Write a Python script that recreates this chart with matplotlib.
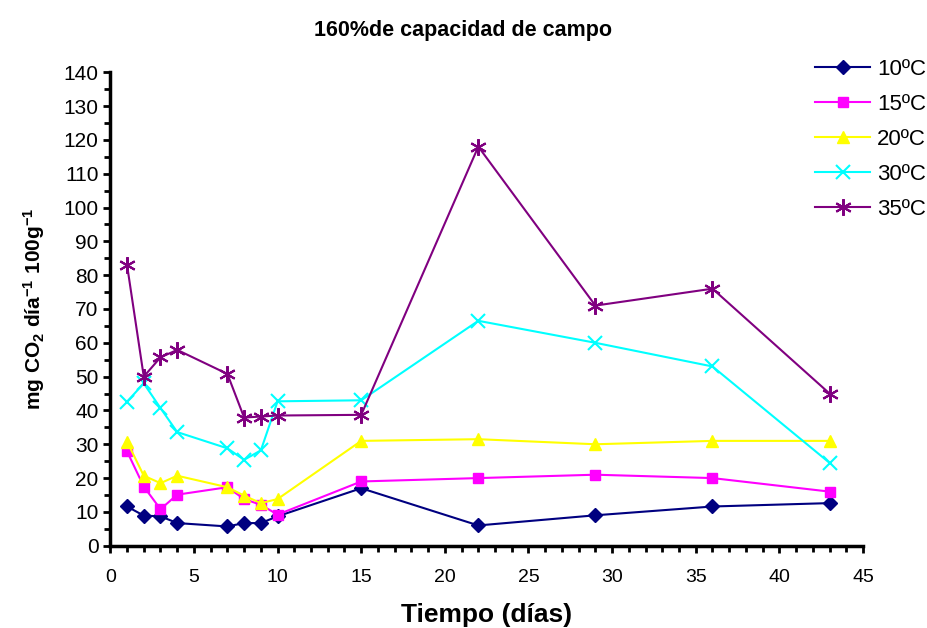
import numpy as np
import matplotlib.pyplot as plt
from matplotlib.ticker import MultipleLocator

plt.rcParams['font.family'] = ['Liberation Sans', 'DejaVu Sans']
plt.rcParams['mathtext.fontset'] = 'custom'
plt.rcParams['mathtext.rm'] = 'Liberation Sans:bold'
plt.rcParams['mathtext.default'] = 'rm'

# dias de muestreo
dias = [1, 2, 3, 4, 7, 8, 9, 10, 15, 22, 29, 36, 43]

# respiracion por temperatura
t10 = [11.6, 8.9, 8.7, 6.7, 5.7, 6.7, 6.7, 8.7, 17, 6, 9, 11.6, 12.6]
t15 = [27.9, 17.5, 10.8, 15.1, 17.3, 13.8, 12.1, 9.2, 19, 20, 21, 20, 16]
t20 = [30.8, 20.7, 18.5, 20.7, 17.3, 14.8, 12.6, 13.8, 31, 31.5, 30, 31, 31]
t30 = [42.6, 48, 40.7, 33.6, 28.8, 25.4, 28.2, 42.7, 43, 66.5, 60, 53, 24.5]
t35 = [83, 50, 55.7, 57.9, 50.8, 37.9, 38.2, 38.5, 38.7, 118, 71, 76, 45]

etiquetas = ['10ºC', '15ºC', '20ºC', '30ºC', '35ºC']

fig = plt.figure(figsize=(9.27, 6.28), dpi=100)
ax = fig.add_axes([0.119, 0.131, 0.812, 0.754])

ax.plot(dias, t10, color='#000080', marker='D', markersize=7, lw=1.5, label=etiquetas[0])
ax.plot(dias, t15, color='#FF00FF', marker='s', markersize=7, lw=1.5, label=etiquetas[1])
ax.plot(dias, t20, color='#FFFF00', marker='^', markersize=9, lw=1.5, label=etiquetas[2])
ax.plot(dias, t30, color='#00FFFF', marker='x', markersize=10, mew=1.5, lw=1.5, label=etiquetas[3])
ax.plot(dias, t35, color='#800080', marker=(6, 2, 0), markersize=12, mew=1.5, lw=1.5, label=etiquetas[4])

ax.set_xlim(0, 45)
ax.set_ylim(0, 140)
ax.xaxis.set_major_locator(MultipleLocator(5))
ax.xaxis.set_minor_locator(MultipleLocator(1))
ax.yaxis.set_major_locator(MultipleLocator(10))
ax.yaxis.set_minor_locator(MultipleLocator(5))
ax.tick_params(which='both', direction='out', width=2)
ax.tick_params(which='major', length=5)
ax.tick_params(which='minor', length=4)
ax.tick_params(axis='x', pad=12, labelsize=14)
ax.tick_params(axis='y', labelsize=15)

for s in ['top', 'right']:
    ax.spines[s].set_visible(False)
for s in ['left', 'bottom']:
    ax.spines[s].set_linewidth(2.5)

ax.set_xlabel('Tiempo (días)', fontsize=19, fontweight='bold', labelpad=12)
ax.set_ylabel('mg CO$_2$ día$^{-1}$ 100g$^{-1}$', fontsize=15, fontweight='bold', labelpad=12)
fig.suptitle('160%de capacidad de campo', fontsize=15.5, fontweight='bold', y=0.968)

fig.legend(loc='upper right', bbox_to_anchor=(0.999, 0.906), frameon=False,
           borderpad=0, borderaxespad=0, fontsize=16, handlelength=2.5,
           handletextpad=0.3, labelspacing=0.63)

plt.savefig('out.png', dpi=100)
